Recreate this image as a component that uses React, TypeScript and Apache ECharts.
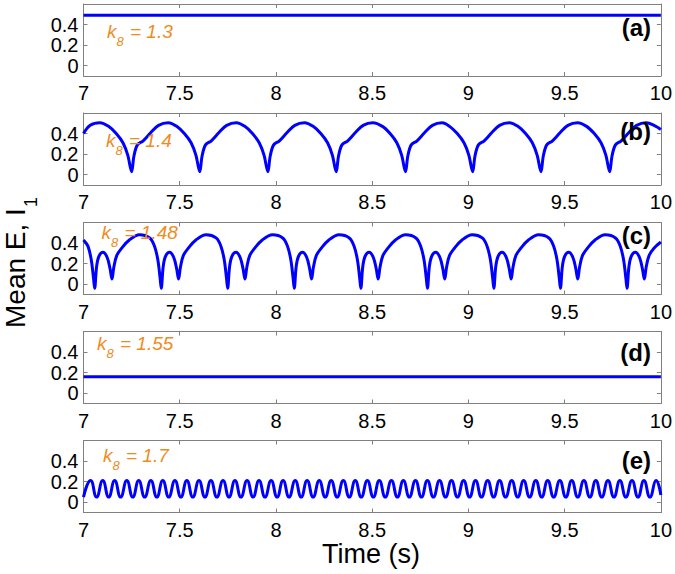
import React, { useEffect, useRef } from "react";
import * as echarts from "echarts";

// ---- data ----
const panelLetters = ["(a)", "(b)", "(c)", "(d)", "(e)"];
const k8Values = ["1.3", "1.4", "1.48", "1.55", "1.7"];
const yTickValues = [0, 0.2, 0.4];
const timeRange = [7, 10];
const valueRange = [-0.1, 0.6];

const seriesA = [[7.0, 0.49], [10.0, 0.49]];

const seriesB = [
  [7.000,0.40],[7.035,0.48],[7.085,0.505],[7.130,0.47],[7.170,0.40],[7.205,0.31],[7.230,0.19],[7.250,0.03],
  [7.262,0.18],[7.280,0.29],[7.310,0.33],[7.350,0.41],[7.390,0.48],[7.440,0.505],[7.484,0.47],[7.524,0.40],[7.559,0.31],[7.584,0.19],[7.604,0.03],
  [7.616,0.18],[7.634,0.29],[7.664,0.33],[7.704,0.41],[7.744,0.48],[7.794,0.505],[7.838,0.47],[7.878,0.40],[7.913,0.31],[7.938,0.19],[7.958,0.03],
  [7.970,0.18],[7.988,0.29],[8.018,0.33],[8.058,0.41],[8.098,0.48],[8.148,0.505],[8.193,0.47],[8.233,0.40],[8.268,0.31],[8.293,0.19],[8.313,0.03],
  [8.325,0.18],[8.343,0.29],[8.373,0.33],[8.413,0.41],[8.453,0.48],[8.503,0.505],[8.553,0.47],[8.593,0.40],[8.628,0.31],[8.653,0.19],[8.673,0.03],
  [8.685,0.18],[8.703,0.29],[8.733,0.33],[8.773,0.41],[8.813,0.48],[8.863,0.505],[8.902,0.47],[8.942,0.40],[8.977,0.31],[9.002,0.19],[9.022,0.03],
  [9.034,0.18],[9.052,0.29],[9.082,0.33],[9.122,0.41],[9.162,0.48],[9.212,0.505],[9.257,0.47],[9.297,0.40],[9.332,0.31],[9.357,0.19],[9.377,0.03],
  [9.389,0.18],[9.407,0.29],[9.437,0.33],[9.477,0.41],[9.517,0.48],[9.567,0.505],[9.614,0.47],[9.654,0.40],[9.689,0.31],[9.714,0.19],[9.734,0.03],
  [9.746,0.18],[9.764,0.29],[9.794,0.33],[9.834,0.41],[9.874,0.48],[9.924,0.505],[9.969,0.475],[10.000,0.44]
];

const seriesC = [
  [7.000,0.43],[7.023,0.37],[7.040,0.24],[7.052,0.06],[7.058,-0.04],
  [7.068,0.17],[7.080,0.27],[7.101,0.31],[7.123,0.26],[7.138,0.15],[7.148,0.05],[7.158,0.17],[7.173,0.28],[7.198,0.35],[7.238,0.43],[7.291,0.48],[7.344,0.45],[7.369,0.37],[7.386,0.24],[7.398,0.06],[7.404,-0.04],
  [7.414,0.17],[7.426,0.27],[7.447,0.31],[7.469,0.26],[7.484,0.15],[7.494,0.05],[7.504,0.17],[7.519,0.28],[7.544,0.35],[7.584,0.43],[7.637,0.48],[7.689,0.45],[7.714,0.37],[7.731,0.24],[7.743,0.06],[7.749,-0.04],
  [7.759,0.17],[7.771,0.27],[7.792,0.31],[7.814,0.26],[7.829,0.15],[7.839,0.05],[7.849,0.17],[7.864,0.28],[7.889,0.35],[7.929,0.43],[7.982,0.48],[8.035,0.45],[8.060,0.37],[8.077,0.24],[8.089,0.06],[8.095,-0.04],
  [8.105,0.17],[8.117,0.27],[8.138,0.31],[8.160,0.26],[8.175,0.15],[8.185,0.05],[8.195,0.17],[8.210,0.28],[8.235,0.35],[8.275,0.43],[8.328,0.48],[8.381,0.45],[8.406,0.37],[8.423,0.24],[8.435,0.06],[8.441,-0.04],
  [8.451,0.17],[8.463,0.27],[8.484,0.31],[8.506,0.26],[8.521,0.15],[8.531,0.05],[8.541,0.17],[8.556,0.28],[8.581,0.35],[8.621,0.43],[8.674,0.48],[8.727,0.45],[8.752,0.37],[8.769,0.24],[8.781,0.06],[8.787,-0.04],
  [8.797,0.17],[8.809,0.27],[8.830,0.31],[8.852,0.26],[8.867,0.15],[8.877,0.05],[8.887,0.17],[8.902,0.28],[8.927,0.35],[8.967,0.43],[9.020,0.48],[9.072,0.45],[9.097,0.37],[9.114,0.24],[9.126,0.06],[9.132,-0.04],
  [9.142,0.17],[9.154,0.27],[9.175,0.31],[9.197,0.26],[9.212,0.15],[9.222,0.05],[9.232,0.17],[9.247,0.28],[9.272,0.35],[9.312,0.43],[9.365,0.48],[9.418,0.45],[9.443,0.37],[9.460,0.24],[9.472,0.06],[9.478,-0.04],
  [9.488,0.17],[9.500,0.27],[9.521,0.31],[9.543,0.26],[9.558,0.15],[9.568,0.05],[9.578,0.17],[9.593,0.28],[9.618,0.35],[9.658,0.43],[9.711,0.48],[9.764,0.45],[9.789,0.37],[9.806,0.24],[9.818,0.06],[9.824,-0.04],
  [9.834,0.17],[9.846,0.27],[9.867,0.31],[9.889,0.26],[9.904,0.15],[9.914,0.05],[9.924,0.17],[9.939,0.28],[9.964,0.35],[10.000,0.41]
];

const seriesD = [[7.0, 0.16], [10.0, 0.16]];

const seriesE = [
  [7.000,0.05],[7.037,0.21],[7.068,0.05],[7.100,0.21],[7.131,0.05],[7.162,0.21],[7.193,0.05],[7.225,0.21],[7.256,0.05],[7.287,0.21],[7.318,0.05],[7.350,0.21],[7.381,0.05],[7.412,0.21],[7.443,0.05],[7.475,0.21],
  [7.506,0.05],[7.537,0.21],[7.568,0.05],[7.600,0.21],[7.631,0.05],[7.662,0.21],[7.693,0.05],[7.725,0.21],[7.756,0.05],[7.787,0.21],[7.818,0.05],[7.850,0.21],[7.881,0.05],[7.912,0.21],[7.943,0.05],[7.975,0.21],
  [8.006,0.05],[8.037,0.21],[8.068,0.05],[8.100,0.21],[8.131,0.05],[8.162,0.21],[8.193,0.05],[8.225,0.21],[8.256,0.05],[8.287,0.21],[8.318,0.05],[8.350,0.21],[8.381,0.05],[8.412,0.21],[8.443,0.05],[8.475,0.21],
  [8.506,0.05],[8.537,0.21],[8.568,0.05],[8.600,0.21],[8.631,0.05],[8.662,0.21],[8.693,0.05],[8.725,0.21],[8.756,0.05],[8.787,0.21],[8.818,0.05],[8.850,0.21],[8.881,0.05],[8.912,0.21],[8.943,0.05],[8.975,0.21],
  [9.006,0.05],[9.037,0.21],[9.068,0.05],[9.100,0.21],[9.131,0.05],[9.162,0.21],[9.193,0.05],[9.225,0.21],[9.256,0.05],[9.287,0.21],[9.318,0.05],[9.350,0.21],[9.381,0.05],[9.412,0.21],[9.443,0.05],[9.475,0.21],
  [9.506,0.05],[9.537,0.21],[9.568,0.05],[9.600,0.21],[9.631,0.05],[9.662,0.21],[9.693,0.05],[9.725,0.21],[9.756,0.05],[9.787,0.21],[9.818,0.05],[9.850,0.21],[9.881,0.05],[9.912,0.21],[9.943,0.05],[9.975,0.21],
  [10.000,0.07]
];

const allSeries = [seriesA, seriesB, seriesC, seriesD, seriesE];
const smoothness = [false, 0.35, 0.35, false, 0.5];

// ---- layout ----
const FONT = "'Liberation Sans', Arial, Helvetica, sans-serif";
const BOX = "#808080";
const ORANGE = "#EE8C1E";
const gridTops = [4, 113, 222.5, 331.5, 440.5];
const gridLeft = 83.5;
const gridRight = 13.5;
const gridHeight = 72;
const kPos = [[107, 31], [106, 140], [101.5, 232.5], [97, 343], [103, 455]];
const letterPos = [[651, 27], [651, 131], [651, 235], [651, 352], [651, 460]];

function buildOption() {
  const grid: any[] = [];
  const xAxis: any[] = [];
  const yAxis: any[] = [];
  const series: any[] = [];
  const graphic: any[] = [];

  for (let i = 0; i < 5; i++) {
    grid.push({ left: gridLeft, right: gridRight, top: gridTops[i], height: gridHeight });
    const xBase = {
      type: "value",
      gridIndex: i,
      min: timeRange[0],
      max: timeRange[1],
      interval: 0.5,
      splitLine: { show: false },
      axisLine: { show: true, onZero: false, lineStyle: { color: BOX, width: 1 } },
      axisTick: { show: true, inside: true, length: 4, lineStyle: { color: BOX, width: 1 } },
    };
    xAxis.push({
      ...xBase,
      position: "bottom",
      axisLabel: {
        show: true, color: "#000", fontSize: 20, fontFamily: FONT, margin: 7,
        formatter: (v: number) => String(v),
      },
    });
    xAxis.push({ ...xBase, position: "top", axisLabel: { show: false } });

    const yBase = {
      type: "value",
      gridIndex: i,
      min: valueRange[0],
      max: valueRange[1],
      splitLine: { show: false },
      axisLine: { show: true, onZero: false, lineStyle: { color: BOX, width: 1 } },
      axisTick: { show: true, inside: true, length: 4, customValues: yTickValues, lineStyle: { color: BOX, width: 1 } },
    };
    yAxis.push({
      ...yBase,
      position: "left",
      axisLabel: {
        show: true, color: "#000", fontSize: 20, fontFamily: FONT, margin: 5,
        customValues: yTickValues,
        formatter: (v: number) => String(v),
      },
    });
    yAxis.push({ ...yBase, position: "right", axisLabel: { show: false } });

    series.push({
      type: "line",
      xAxisIndex: 2 * i,
      yAxisIndex: 2 * i,
      data: allSeries[i],
      showSymbol: false,
      symbol: "none",
      smooth: smoothness[i],
      lineStyle: { color: "#0000FF", width: 3 },
      silent: true,
    });

    const [kx, ky] = kPos[i];
    graphic.push({
      type: "text", x: kx, y: ky, z: 10,
      style: { text: "k", fill: ORANGE, fontSize: 19, fontStyle: "italic", fontFamily: FONT, textAlign: "left", textVerticalAlign: "middle" },
    });
    graphic.push({
      type: "text", x: kx + 9.5, y: ky + 10, z: 10,
      style: { text: "8", fill: ORANGE, fontSize: 13, fontStyle: "italic", fontFamily: FONT, textAlign: "left", textVerticalAlign: "middle" },
    });
    graphic.push({
      type: "text", x: kx + 23, y: ky, z: 10,
      style: { text: "= " + k8Values[i], fill: ORANGE, fontSize: 19, fontStyle: "italic", fontFamily: FONT, textAlign: "left", textVerticalAlign: "middle" },
    });
    const [lx, ly] = letterPos[i];
    graphic.push({
      type: "text", x: lx, y: ly, z: 10,
      style: { text: panelLetters[i], fill: "#000", fontSize: 24, fontWeight: "bold", fontFamily: FONT, textAlign: "right", textVerticalAlign: "middle" },
    });
  }

  graphic.push({
    type: "group", x: 15, y: 328, rotation: Math.PI / 2,
    children: [
      { type: "text", x: 0, y: 0, style: { text: "Mean E, I", fill: "#000", fontSize: 28, fontFamily: FONT, textAlign: "left", textVerticalAlign: "middle" } },
      { type: "text", x: 121, y: 16, style: { text: "1", fill: "#000", fontSize: 18, fontFamily: FONT, textAlign: "left", textVerticalAlign: "middle" } },
    ],
  });
  graphic.push({
    type: "text", x: 371, y: 554,
    style: { text: "Time (s)", fill: "#000", fontSize: 27, fontFamily: FONT, textAlign: "center", textVerticalAlign: "middle" },
  });

  return {
    animation: false,
    backgroundColor: "#ffffff",
    grid, xAxis, yAxis, series, graphic,
  };
}

export default function App() {
  const ref = useRef<HTMLDivElement>(null);
  useEffect(() => {
    document.body.style.margin = "0";
    if (!ref.current) return;
    const chart = echarts.init(ref.current, null, { renderer: "svg" });
    chart.setOption(buildOption() as any);
    return () => chart.dispose();
  }, []);
  return <div ref={ref} style={{ width: 675, height: 574 }} />;
}
